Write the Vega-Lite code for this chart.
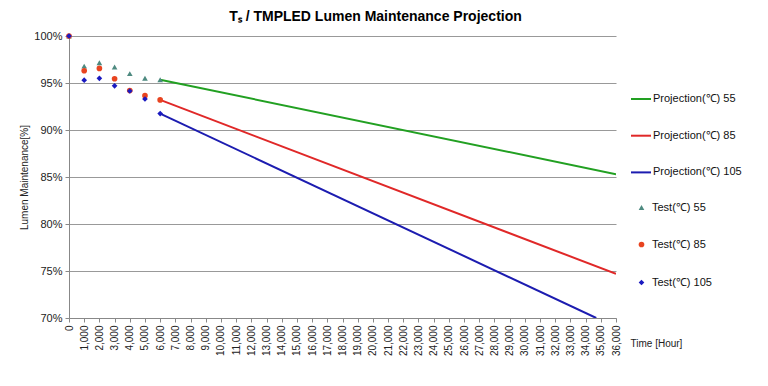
{
  "$schema": "https://vega.github.io/schema/vega-lite/v6.json",
  "width": 547,
  "height": 282,
  "autosize": {"type": "none"},
  "padding": {"left": 69, "top": 36, "right": 152, "bottom": 68},
  "background": "white",
  "config": {"view": {"stroke": null}, "font": "Liberation Sans"},
  "title": {"text": "Tₛ / TMPLED Lumen Maintenance Projection", "fontSize": 14, "fontWeight": "bold", "font": "Liberation Sans", "color": "black", "anchor": "middle", "dx": 33, "offset": 6},
  "datasets": {
    "proj": [
      {"series": "Projection(℃) 55", "hours": 6000, "pct": 95.35},
      {"series": "Projection(℃) 55", "hours": 36000, "pct": 85.3},
      {"series": "Projection(℃) 85", "hours": 6000, "pct": 93.2},
      {"series": "Projection(℃) 85", "hours": 36000, "pct": 74.7},
      {"series": "Projection(℃) 105", "hours": 6000, "pct": 91.75},
      {"series": "Projection(℃) 105", "hours": 34700, "pct": 70.0}
    ],
    "test": [
      {"series": "Test(℃) 55", "hours": 0, "pct": 100},
      {"series": "Test(℃) 55", "hours": 1000, "pct": 96.8},
      {"series": "Test(℃) 55", "hours": 2000, "pct": 97.15},
      {"series": "Test(℃) 55", "hours": 3000, "pct": 96.7},
      {"series": "Test(℃) 55", "hours": 4000, "pct": 96.0},
      {"series": "Test(℃) 55", "hours": 5000, "pct": 95.5},
      {"series": "Test(℃) 55", "hours": 6000, "pct": 95.35},
      {"series": "Test(℃) 85", "hours": 0, "pct": 100},
      {"series": "Test(℃) 85", "hours": 1000, "pct": 96.3},
      {"series": "Test(℃) 85", "hours": 2000, "pct": 96.55},
      {"series": "Test(℃) 85", "hours": 3000, "pct": 95.45},
      {"series": "Test(℃) 85", "hours": 4000, "pct": 94.2},
      {"series": "Test(℃) 85", "hours": 5000, "pct": 93.65},
      {"series": "Test(℃) 85", "hours": 6000, "pct": 93.2},
      {"series": "Test(℃) 105", "hours": 0, "pct": 100},
      {"series": "Test(℃) 105", "hours": 1000, "pct": 95.3},
      {"series": "Test(℃) 105", "hours": 2000, "pct": 95.5},
      {"series": "Test(℃) 105", "hours": 3000, "pct": 94.7},
      {"series": "Test(℃) 105", "hours": 4000, "pct": 94.15},
      {"series": "Test(℃) 105", "hours": 5000, "pct": 93.3},
      {"series": "Test(℃) 105", "hours": 6000, "pct": 91.75}
    ]
  },
  "encoding": {
    "x": {
      "field": "hours", "type": "quantitative",
      "scale": {"domain": [0, 36000], "nice": false},
      "axis": {
        "values": [0,1000,2000,3000,4000,5000,6000,7000,8000,9000,10000,11000,12000,13000,14000,15000,16000,17000,18000,19000,20000,21000,22000,23000,24000,25000,26000,27000,28000,29000,30000,31000,32000,33000,34000,35000,36000],
        "labelExpr": "format(datum.value, ',')", "labelAngle": -90, "labelFontSize": 10, "labelColor": "#222", "labelPadding": 3,
        "labelOverlap": false, "labelBound": false, "labelFlush": false,
        "tickSize": 4, "tickColor": "#888", "domainColor": "#888", "grid": false,
        "title": "Time [Hour]", "titleFontSize": 10, "titleFontWeight": "normal", "titleColor": "#222",
        "titleX": 561, "titleY": 25, "titleAlign": "left", "titleBaseline": "middle"
      }
    },
    "y": {
      "field": "pct", "type": "quantitative",
      "scale": {"domain": [70, 100], "nice": false},
      "axis": {
        "values": [70, 75, 80, 85, 90, 95, 100],
        "labelExpr": "datum.value + '%'", "labelFontSize": 11, "labelColor": "#222", "labelPadding": 3,
        "tickSize": 4, "tickColor": "#888", "domainColor": "#888",
        "grid": true, "gridColor": "#999", "gridWidth": 1,
        "title": "Lumen Maintenance[%]", "titleFontSize": 10, "titleFontWeight": "normal", "titleColor": "#222",
        "titleX": -45, "titleY": 141, "titleAngle": -90, "titleAlign": "center", "titleBaseline": "middle"
      }
    }
  },
  "layer": [
    {
      "data": {"name": "proj"},
      "mark": {"type": "line", "strokeWidth": 2, "clip": true},
      "encoding": {
        "stroke": {
          "field": "series", "type": "nominal",
          "scale": {"domain": ["Projection(℃) 55", "Projection(℃) 85", "Projection(℃) 105"], "range": ["#22A022", "#E02828", "#1C1CB0"]},
          "legend": {"orient": "none", "legendX": 561, "legendY": 52, "title": null, "symbolType": "stroke", "symbolStrokeWidth": 2, "symbolSize": 400, "labelFontSize": 11, "labelColor": "#111", "rowPadding": 20.7, "padding": 0, "labelOffset": 1}
        }
      }
    },
    {
      "data": {"name": "test"},
      "mark": {"type": "point", "filled": true, "size": 32, "opacity": 1},
      "encoding": {
        "fill": {
          "field": "series", "type": "nominal",
          "scale": {"domain": ["Test(℃) 55", "Test(℃) 85", "Test(℃) 105"], "range": ["#4E8A80", "#E84420", "#1A1AC0"]},
          "legend": {"orient": "none", "legendX": 567, "legendY": 166, "title": null, "symbolSize": 32, "labelFontSize": 11, "labelColor": "#111", "rowPadding": 25, "padding": 0, "labelOffset": 5}
        },
        "shape": {
          "field": "series", "type": "nominal",
          "scale": {"domain": ["Test(℃) 55", "Test(℃) 85", "Test(℃) 105"], "range": ["triangle-up", "circle", "diamond"]},
          "legend": {"orient": "none", "legendX": 567, "legendY": 166, "title": null, "symbolSize": 32, "labelFontSize": 11, "labelColor": "#111", "rowPadding": 25, "padding": 0, "labelOffset": 5}
        }
      }
    }
  ]
}
